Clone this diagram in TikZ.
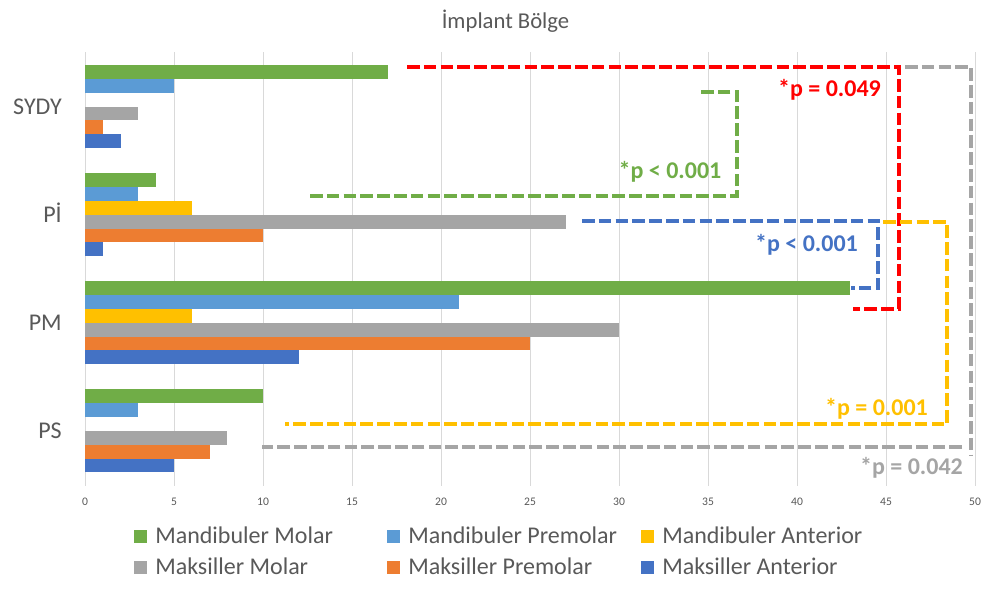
\documentclass[tikz,border=0pt]{standalone}
\usepackage{fontspec}
\setmainfont{Carlito}
\definecolor{bar0}{HTML}{70AD47}
\definecolor{bar1}{HTML}{5B9BD5}
\definecolor{bar2}{HTML}{FFC000}
\definecolor{bar3}{HTML}{A5A5A5}
\definecolor{bar4}{HTML}{ED7D31}
\definecolor{bar5}{HTML}{4472C4}
\definecolor{cRed}{HTML}{FF0000}
\definecolor{txtgray}{HTML}{595959}
\definecolor{gridgray}{HTML}{D9D9D9}
\tikzset{
  gridline/.style={draw=gridgray, line width=0.75pt},
  ticklab/.style={inner sep=0pt, text=txtgray, font=\fontsize{8.7}{10}\selectfont},
  catlab/.style={inner sep=0pt, text=txtgray, font=\fontsize{18}{20}\selectfont},
  leglab/.style={inner sep=0pt, text=txtgray, font=\fontsize{18}{20}\selectfont},
  titlelab/.style={inner sep=0pt, text=txtgray, font=\fontsize{17}{20}\selectfont},
  siglab/.style={inner sep=0pt, font=\bfseries\fontsize{18}{20}\selectfont},
  sigline/.style={line width=3pt, dash pattern=on 9.4pt off 3.2pt, line join=miter},
}
\begin{document}
\begin{tikzpicture}[x=0.75pt,y=-0.75pt]
\useasboundingbox (0,0) rectangle (981,590);
\fill[white] (0,0) rectangle (981,590);
% title
\node[titlelab, anchor=base] (title) at (505.5,28.3) {İmplant Bölge};
% gridlines and tick labels
\foreach \k [evaluate=\k as \v using int(5*\k)] in {0,...,10} {
  \draw[gridline] ({85+89*\k},52) -- ({85+89*\k},486);
  \node[ticklab, anchor=base] (tick\k) at ({85+89*\k},505.5) {\v};
}
% bars
\foreach \vals [count=\c from 0] in {{17,5,0,3,1,2},{4,3,6,27,10,1},{43,21,6,30,25,12},{10,3,0,8,7,5}} {
  \foreach \v [count=\i from 0] in \vals {
    \pgfmathsetmacro\yt{65+108.1*\c+13.85*\i}
    \ifdim \v pt>0pt
      \fill[bar\i] (85,\yt) rectangle ({85+17.8*\v},{\yt+13.85});
    \fi
  }
}
% category labels
\node[catlab, anchor=base east] (cSYDY) at (62,114) {SYDY};
\node[catlab, anchor=base east] (cPI) at (62,222.3) {Pİ};
\node[catlab, anchor=base east] (cPM) at (62,330.4) {PM};
\node[catlab, anchor=base east] (cPS) at (62,438.5) {PS};
% significance brackets
\draw[sigline, bar0] (310,196) -- (737,196) -- (737,92) -- (697,92);
\draw[sigline, bar5] (582,221) -- (878,221) -- (878,288) -- (851,288);
\draw[sigline, cRed] (407,67) -- (899,67) -- (899,309) -- (853,309);
\draw[sigline, bar2] (883,222) -- (947,222) -- (947,424) -- (285,424);
\draw[sigline, bar3] (905,67) -- (971,67) -- (971,455);
\draw[sigline, bar3] (962,447) -- (262,447);
% significance labels
\node[siglab, text=cRed, anchor=base] (sRed) at (829.5,96) {*p = 0.049};
\node[siglab, text=bar0, anchor=base] (sGreen) at (670,178.3) {*p < 0.001};
\node[siglab, text=bar5, anchor=base] (sBlue) at (806.5,251.7) {*p < 0.001};
\node[siglab, text=bar2, anchor=base] (sYellow) at (876.5,415) {*p = 0.001};
\node[siglab, text=bar3, anchor=base] (sGray) at (911.5,474) {*p = 0.042};
% legend
\foreach \x/\y/\col/\txt [count=\n] in {134/536/bar0/Mandibuler Molar, 387/536/bar1/Mandibuler Premolar, 641/536/bar2/Mandibuler Anterior, 134/567/bar3/Maksiller Molar, 387/567/bar4/Maksiller Premolar, 641/567/bar5/Maksiller Anterior} {
  \fill[\col] (\x,{\y-6.5}) rectangle ({\x+12.5},{\y+6.5});
  \node[leglab, anchor=base west] (leg\n) at ({\x+21},{\y+7}) {\txt};
}
\end{tikzpicture}
\end{document}
